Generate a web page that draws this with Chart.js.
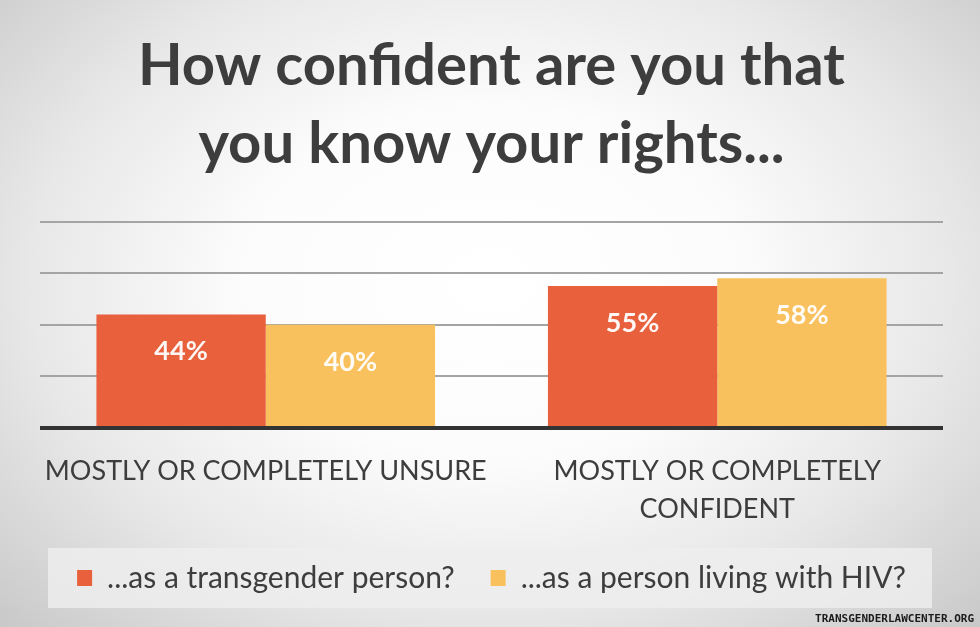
<!DOCTYPE html>
<html>
<head>
<meta charset="utf-8">
<script src="https://cdn.jsdelivr.net/npm/chart.js@4"></script>
<style>
  html, body { margin: 0; padding: 0; }
  body {
    width: 980px; height: 627px; overflow: hidden;
    background: radial-gradient(ellipse 72% 80% at 50% 45%, #ffffff 0%, #fcfcfc 35%, #e8e8e8 65%, #d0d0d0 90%, #c6c6c6 100%);
  }
  canvas { display: block; }
</style>
</head>
<body>
<canvas id="c" width="980" height="627"></canvas>
<script>
const titleLines = ['How confident are you that', 'you know your rights...'];
const categories = [['MOSTLY OR COMPLETELY UNSURE'], ['MOSTLY OR COMPLETELY', 'CONFIDENT']];
const seriesNames = ['...as a transgender person?', '...as a person living with HIV?'];
const transgenderValues = [44, 55];
const hivValues = [40, 58];
const yMin = 0, yMax = 80, yStep = 20;
const watermark = 'TRANSGENDERLAWCENTER.ORG';

const textColor = '#3d3d3d';
const legendPad = 36;
const legendFont = 30;

const barLabels = {
  id: 'barLabels',
  afterDatasetsDraw(chart) {
    const ctx = chart.ctx;
    ctx.save();
    ctx.font = 'bold 27px Lato';
    ctx.fillStyle = 'rgba(255,255,255,0.95)';
    ctx.textAlign = 'center';
    ctx.textBaseline = 'middle';
    chart.data.datasets.forEach((ds, di) => {
      chart.getDatasetMeta(di).data.forEach((bar, i) => {
        ctx.fillText(ds.data[i] + '%', bar.x, bar.y + 37);
      });
    });
    ctx.restore();
  }
};

const legendBg = {
  id: 'legendBg',
  beforeDraw(chart) {
    const lg = chart.legend, ca = chart.chartArea, ctx = chart.ctx;
    const mid = lg.top + legendPad + legendFont / 2;
    ctx.save();
    ctx.fillStyle = 'rgba(238,238,238,0.82)';
    ctx.fillRect(ca.left + 8, mid - 30, (ca.right - 11) - (ca.left + 8), 60);
    ctx.restore();
  },
  afterDraw(chart) {
    const ctx = chart.ctx;
    ctx.save();
    ctx.font = 'bold 11px "DejaVu Sans Mono"';
    ctx.fillStyle = '#1b1b1b';
    ctx.textAlign = 'right';
    ctx.textBaseline = 'alphabetic';
    ctx.fillText(watermark, chart.width - 6, chart.height - 5);
    ctx.restore();
  }
};

new Chart(document.getElementById('c'), {
  type: 'bar',
  data: {
    labels: categories,
    datasets: [
      { label: seriesNames[0], data: transgenderValues, backgroundColor: '#e8603c', borderWidth: 0 },
      { label: seriesNames[1], data: hivValues, backgroundColor: '#f9c15e', borderWidth: 0 }
    ]
  },
  options: {
    responsive: false,
    animation: false,
    events: [],
    categoryPercentage: 0.75,
    barPercentage: 1.0,
    layout: { padding: { left: 40, right: 37, top: 0, bottom: 24 } },
    plugins: {
      title: {
        display: true,
        text: titleLines,
        color: textColor,
        font: { family: 'Lato', weight: 'bold', size: 58, lineHeight: 1.35 },
        padding: { top: 27, bottom: 38 }
      },
      legend: {
        display: true,
        position: 'bottom',
        labels: {
          color: textColor,
          font: { family: 'Lato', size: legendFont },
          boxWidth: 15,
          boxHeight: 16,
          padding: legendPad
        }
      },
      tooltip: { enabled: false }
    },
    scales: {
      x: {
        grid: { display: false, drawTicks: false },
        border: { display: false },
        ticks: {
          color: textColor,
          font: { family: 'Lato', size: 27, lineHeight: 1.42 },
          padding: 24,
          maxRotation: 0,
          autoSkip: false
        },
        afterFit(s) { s.height = 99; }
      },
      y: {
        min: yMin,
        max: yMax,
        ticks: { display: false, stepSize: yStep },
        border: { display: false },
        grid: {
          drawTicks: false,
          color: c => c.tick.value === 0 ? '#333333' : '#a4a4a4',
          lineWidth: c => c.tick.value === 0 ? 4 : 2
        },
        afterFit(s) { s.width = 0; }
      }
    }
  },
  plugins: [barLabels, legendBg]
});
</script>
</body>
</html>
